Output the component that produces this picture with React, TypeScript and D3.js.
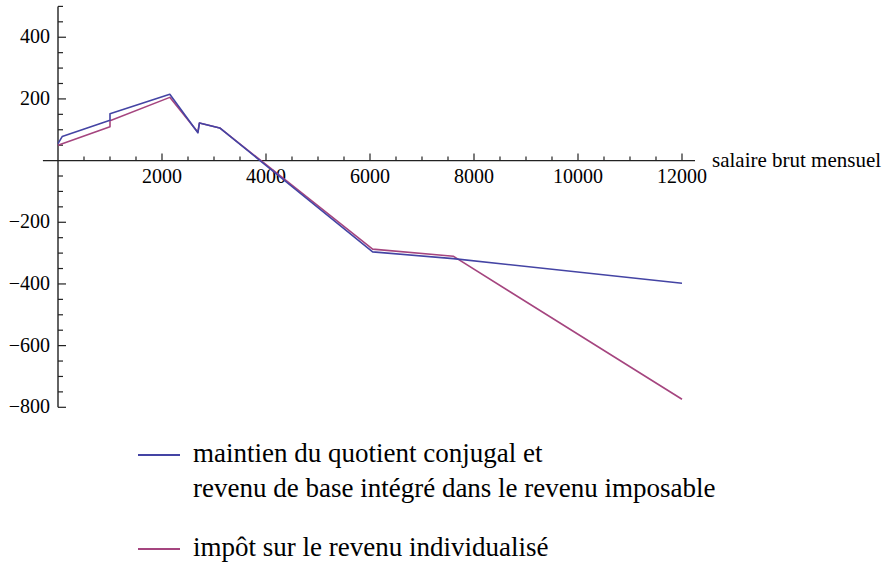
import React from "react";
import * as d3 from "d3";

// salary (x) and value (y) series
const blueSalary = [0, 80, 1000, 1000, 2150, 2690, 2720, 3110, 6050, 7600, 12000];
const blueValues = [55, 78, 131, 152, 215, 90, 122, 106, -296, -318, -398];
const pinkSalary = [0, 1000, 1000, 2150, 2690, 2720, 3110, 6050, 7600, 12000];
const pinkValues = [50, 110, 129, 205, 92, 122, 106, -287, -310, -774];

const xTickValues = [2000, 4000, 6000, 8000, 10000, 12000];
const yTickValues = [-800, -600, -400, -200, 200, 400];

const seriesLabels = [
  ["maintien du quotient conjugal et", "revenu de base intégré dans le revenu imposable"],
  ["impôt sur le revenu individualisé"],
];
const seriesColors = ["#4444a4", "#a5457f"];
const axisLabel = "salaire brut mensuel";

const W = 887;
const H = 563;
const FONT_NAME = "Liberation Serif";
const FONT = "'Liberation Serif', monospace";

export default function App() {
  const x = d3.scaleLinear().domain([0, 12000]).range([58, 682]);
  const y = d3.scaleLinear().domain([-800, 500]).range([407.3, 6.4]);
  const line = d3.line<[number, number]>().x((d) => x(d[0])).y((d) => y(d[1]));
  const blue: [number, number][] = blueSalary.map((s, i) => [s, blueValues[i]]);
  const pink: [number, number][] = pinkSalary.map((s, i) => [s, pinkValues[i]]);
  const xMinor = d3.range(500, 12001, 500);
  const yMinor = d3.range(-800, 501, 50).filter((v) => v !== 0);
  const legendY = [455, 549];

  return (
    <svg width={W} height={H} style={{ position: "absolute", left: 0, top: 0 }}>
      {/* axes */}
      <line x1={x(-290)} x2={x(12250)} y1={y(0)} y2={y(0)} stroke="#222" strokeWidth={1.4} />
      <line x1={x(0)} x2={x(0)} y1={y(-800)} y2={y(500)} stroke="#222" strokeWidth={1.4} />

      {xMinor.map((v) => (
        <line
          key={"xm" + v}
          x1={x(v)} x2={x(v)}
          y1={y(0)} y2={y(0) - (v % 2000 === 0 ? 7 : 4)}
          stroke="#222" strokeWidth={1.2}
        />
      ))}
      {xTickValues.map((v) => (
        <text
          key={"xt" + v}
          x={x(v)} y={y(0) + 22}
          textAnchor="middle" fontSize={20}
          fontFamily={FONT_NAME}
          style={{ fontFamily: FONT }}
        >
          {String(v)}
        </text>
      ))}

      {yMinor.map((v) => (
        <line
          key={"ym" + v}
          x1={x(0)} x2={x(0) + (v % 200 === 0 ? 8 : 5)}
          y1={y(v)} y2={y(v)}
          stroke="#222" strokeWidth={1.2}
        />
      ))}
      {yTickValues.map((v) => (
        <text
          key={"yt" + v}
          x={50} y={y(v) + 6}
          textAnchor="end" fontSize={20}
          fontFamily={FONT_NAME}
          style={{ fontFamily: FONT }}
        >
          {v < 0 ? "\u2212" + Math.abs(v) : String(v)}
        </text>
      ))}

      <text x={712} y={y(0) + 6} fontSize={21} fontFamily={FONT_NAME} style={{ fontFamily: FONT }}>
        {axisLabel}
      </text>

      {/* series */}
      <path d={line(pink) as string} fill="none" stroke={seriesColors[1]} strokeWidth={1.6} strokeLinejoin="round" />
      <path d={line(blue) as string} fill="none" stroke={seriesColors[0]} strokeWidth={1.6} strokeLinejoin="round" />

      {/* legend */}
      {seriesLabels.map((lines, i) => (
        <g key={"lg" + i}>
          <line x1={138} x2={180} y1={legendY[i]} y2={legendY[i]} stroke={seriesColors[i]} strokeWidth={1.8} />
          {lines.map((t, j) => (
            <text
              key={j}
              x={193} y={legendY[i] + 7 + j * 35}
              fontSize={27}
              fontFamily={FONT_NAME}
              style={{ fontFamily: FONT }}
            >
              {t}
            </text>
          ))}
        </g>
      ))}
    </svg>
  );
}
